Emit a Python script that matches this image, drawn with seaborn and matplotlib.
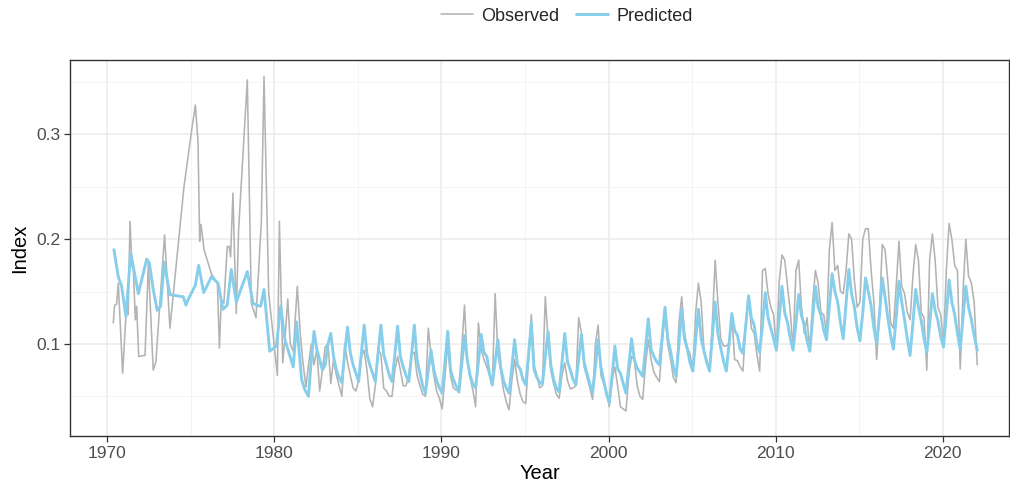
import matplotlib
matplotlib.use("Agg")
import numpy as np
import pandas as pd
import seaborn as sns
import matplotlib.pyplot as plt
from matplotlib.ticker import MultipleLocator, FixedLocator

# ---- early, irregularly sampled record (1970-1981) ----
obs_early_t = [1970.36, 1970.44, 1970.56, 1970.66, 1970.92, 1971.16, 1971.25, 1971.36,
               1971.48, 1971.56, 1971.68, 1971.76, 1971.88, 1972.26, 1972.46, 1972.75,
               1972.91, 1973.43, 1973.75, 1974.59, 1975.05, 1975.27, 1975.43, 1975.53,
               1975.59, 1975.65, 1975.79, 1976.23, 1976.59, 1976.71, 1976.82, 1976.98,
               1977.18, 1977.30, 1977.38, 1977.52, 1977.62, 1977.72, 1977.86, 1978.38,
               1978.62, 1978.90, 1979.22, 1979.38, 1979.66, 1980.18, 1980.30, 1980.50,
               1980.66, 1980.80, 1980.95, 1981.13, 1981.37, 1981.55, 1981.69, 1981.89]
obs_early_v = [0.120, 0.137, 0.138, 0.158, 0.072, 0.139, 0.128, 0.217,
               0.174, 0.171, 0.123, 0.136, 0.088, 0.089, 0.177, 0.075,
               0.083, 0.204, 0.115, 0.250, 0.304, 0.328, 0.293, 0.198,
               0.214, 0.209, 0.190, 0.167, 0.158, 0.096, 0.142, 0.139,
               0.193, 0.193, 0.183, 0.244, 0.183, 0.129, 0.209, 0.352,
               0.139, 0.125, 0.217, 0.355, 0.148, 0.070, 0.217, 0.082,
               0.110, 0.143, 0.100, 0.093, 0.155, 0.110, 0.085, 0.059]

pred_early_t = [1970.40, 1970.66, 1970.86, 1971.12, 1971.40, 1971.86, 1972.36, 1972.52,
                1972.75, 1972.99, 1973.19, 1973.41, 1973.75, 1974.55, 1974.71, 1974.83,
                1975.27, 1975.47, 1975.77, 1976.23, 1976.63, 1976.92, 1977.18, 1977.42,
                1977.72, 1978.38, 1978.72, 1978.92, 1979.18, 1979.38, 1979.72, 1980.12,
                1980.38, 1980.63, 1981.13, 1981.33, 1981.63, 1981.83]
pred_early_v = [0.190, 0.164, 0.155, 0.126, 0.187, 0.148, 0.181, 0.177,
                0.152, 0.132, 0.136, 0.178, 0.147, 0.145, 0.137, 0.142,
                0.156, 0.175, 0.149, 0.164, 0.158, 0.133, 0.137, 0.171,
                0.140, 0.169, 0.139, 0.137, 0.136, 0.152, 0.093, 0.098,
                0.136, 0.104, 0.078, 0.121, 0.066, 0.056]

# ---- regular record from 1982: six readings per year ----
cycle_years = list(range(1982, 2022))
cycle_offsets = [0.04, 0.21, 0.375, 0.54, 0.71, 0.875]

obs_cycle = [
    [0.080, 0.100, 0.080, 0.095, 0.055, 0.075],  # 1982
    [0.097, 0.100, 0.062, 0.085, 0.070, 0.060],  # 1983
    [0.050, 0.100, 0.083, 0.070, 0.058, 0.055],  # 1984
    [0.065, 0.088, 0.094, 0.075, 0.048, 0.040],  # 1985
    [0.060, 0.095, 0.090, 0.058, 0.055, 0.050],  # 1986
    [0.050, 0.075, 0.088, 0.075, 0.060, 0.060],  # 1987
    [0.070, 0.090, 0.092, 0.070, 0.060, 0.052],  # 1988
    [0.050, 0.115, 0.090, 0.070, 0.055, 0.048],  # 1989
    [0.038, 0.070, 0.100, 0.070, 0.058, 0.056],  # 1990
    [0.058, 0.095, 0.137, 0.085, 0.068, 0.056],  # 1991
    [0.040, 0.120, 0.095, 0.085, 0.078, 0.070],  # 1992
    [0.060, 0.148, 0.090, 0.075, 0.056, 0.045],  # 1993
    [0.037, 0.065, 0.085, 0.065, 0.052, 0.045],  # 1994
    [0.043, 0.085, 0.128, 0.080, 0.070, 0.058],  # 1995
    [0.060, 0.145, 0.105, 0.075, 0.062, 0.052],  # 1996
    [0.048, 0.070, 0.082, 0.065, 0.057, 0.058],  # 1997
    [0.060, 0.125, 0.110, 0.078, 0.068, 0.058],  # 1998
    [0.047, 0.100, 0.118, 0.070, 0.062, 0.055],  # 1999
    [0.040, 0.065, 0.078, 0.060, 0.040, 0.038],  # 2000
    [0.036, 0.070, 0.088, 0.085, 0.060, 0.050],  # 2001
    [0.047, 0.080, 0.104, 0.085, 0.073, 0.068],  # 2002
    [0.064, 0.100, 0.130, 0.100, 0.085, 0.068],  # 2003
    [0.063, 0.120, 0.145, 0.110, 0.097, 0.090],  # 2004
    [0.074, 0.130, 0.158, 0.140, 0.093, 0.085],  # 2005
    [0.075, 0.120, 0.180, 0.140, 0.105, 0.098],  # 2006
    [0.098, 0.100, 0.128, 0.085, 0.084, 0.078],  # 2007
    [0.074, 0.120, 0.145, 0.115, 0.110, 0.090],  # 2008
    [0.074, 0.170, 0.172, 0.148, 0.135, 0.128],  # 2009
    [0.094, 0.160, 0.185, 0.180, 0.155, 0.130],  # 2010
    [0.094, 0.170, 0.180, 0.135, 0.110, 0.125],  # 2011
    [0.093, 0.140, 0.170, 0.158, 0.130, 0.128],  # 2012
    [0.110, 0.190, 0.216, 0.170, 0.175, 0.150],  # 2013
    [0.148, 0.170, 0.205, 0.200, 0.160, 0.135],  # 2014
    [0.140, 0.200, 0.210, 0.210, 0.170, 0.140],  # 2015
    [0.085, 0.130, 0.195, 0.190, 0.160, 0.120],  # 2016
    [0.115, 0.155, 0.198, 0.155, 0.148, 0.130],  # 2017
    [0.123, 0.165, 0.195, 0.180, 0.130, 0.125],  # 2018
    [0.075, 0.180, 0.205, 0.180, 0.135, 0.128],  # 2019
    [0.100, 0.170, 0.215, 0.200, 0.175, 0.170],  # 2020
    [0.076, 0.150, 0.200, 0.165, 0.158, 0.140],  # 2021
]

pred_cycle = [
    [0.050, 0.085, 0.112, 0.095, 0.085, 0.075],  # 1982
    [0.080, 0.100, 0.110, 0.088, 0.075, 0.068],  # 1983
    [0.063, 0.092, 0.116, 0.092, 0.080, 0.072],  # 1984
    [0.064, 0.092, 0.118, 0.090, 0.080, 0.072],  # 1985
    [0.064, 0.092, 0.118, 0.090, 0.080, 0.070],  # 1986
    [0.064, 0.090, 0.117, 0.088, 0.078, 0.070],  # 1987
    [0.064, 0.090, 0.118, 0.085, 0.072, 0.060],  # 1988
    [0.053, 0.075, 0.094, 0.075, 0.065, 0.058],  # 1989
    [0.053, 0.083, 0.112, 0.075, 0.066, 0.060],  # 1990
    [0.054, 0.080, 0.108, 0.085, 0.070, 0.062],  # 1991
    [0.058, 0.083, 0.109, 0.092, 0.088, 0.072],  # 1992
    [0.061, 0.083, 0.104, 0.078, 0.065, 0.058],  # 1993
    [0.053, 0.078, 0.104, 0.080, 0.076, 0.066],  # 1994
    [0.061, 0.090, 0.120, 0.075, 0.068, 0.063],  # 1995
    [0.062, 0.087, 0.112, 0.080, 0.066, 0.058],  # 1996
    [0.054, 0.082, 0.110, 0.083, 0.075, 0.066],  # 1997
    [0.061, 0.085, 0.109, 0.082, 0.072, 0.062],  # 1998
    [0.053, 0.078, 0.104, 0.078, 0.065, 0.052],  # 1999
    [0.044, 0.070, 0.098, 0.076, 0.072, 0.062],  # 2000
    [0.053, 0.080, 0.105, 0.085, 0.077, 0.073],  # 2001
    [0.069, 0.096, 0.124, 0.095, 0.088, 0.083],  # 2002
    [0.080, 0.108, 0.135, 0.105, 0.093, 0.078],  # 2003
    [0.069, 0.100, 0.133, 0.105, 0.095, 0.082],  # 2004
    [0.074, 0.104, 0.133, 0.105, 0.093, 0.082],  # 2005
    [0.074, 0.107, 0.140, 0.110, 0.096, 0.084],  # 2006
    [0.074, 0.100, 0.129, 0.113, 0.108, 0.095],  # 2007
    [0.091, 0.118, 0.146, 0.125, 0.118, 0.100],  # 2008
    [0.092, 0.118, 0.149, 0.125, 0.115, 0.105],  # 2009
    [0.094, 0.125, 0.155, 0.130, 0.120, 0.105],  # 2010
    [0.094, 0.120, 0.147, 0.127, 0.118, 0.103],  # 2011
    [0.093, 0.124, 0.155, 0.135, 0.127, 0.113],  # 2012
    [0.104, 0.135, 0.167, 0.150, 0.140, 0.120],  # 2013
    [0.105, 0.138, 0.171, 0.148, 0.135, 0.115],  # 2014
    [0.103, 0.130, 0.163, 0.150, 0.136, 0.115],  # 2015
    [0.100, 0.128, 0.163, 0.145, 0.125, 0.108],  # 2016
    [0.095, 0.125, 0.160, 0.140, 0.123, 0.105],  # 2017
    [0.089, 0.120, 0.152, 0.135, 0.122, 0.105],  # 2018
    [0.092, 0.118, 0.148, 0.132, 0.122, 0.107],  # 2019
    [0.097, 0.128, 0.161, 0.140, 0.128, 0.110],  # 2020
    [0.095, 0.125, 0.155, 0.135, 0.123, 0.108],  # 2021
]

# final reading at the start of 2022
tail_t = [2022.06]
obs_tail_v = [0.080]
pred_tail_v = [0.094]

x_ticks = [1970, 1980, 1990, 2000, 2010, 2020]
y_ticks = [0.1, 0.2, 0.3]
y_tick_labels = ["0.1", "0.2", "0.3"]


def assemble(early_t, early_v, cycle, tail_v):
    t = list(early_t)
    v = list(early_v)
    for yr, row in zip(cycle_years, cycle):
        for off, val in zip(cycle_offsets, row):
            t.append(yr + off)
            v.append(val)
    t += tail_t
    v += tail_v
    return t, v


ot, ov = assemble(obs_early_t, obs_early_v, obs_cycle, obs_tail_v)
pt, pv = assemble(pred_early_t, pred_early_v, pred_cycle, pred_tail_v)

df = pd.concat([
    pd.DataFrame({"Year": ot, "Index": ov, "series": "Observed"}),
    pd.DataFrame({"Year": pt, "Index": pv, "series": "Predicted"}),
], ignore_index=True)

sns.set_theme(style="whitegrid")
plt.rcParams["font.family"] = ["Liberation Sans", "DejaVu Sans"]

fig = plt.figure(figsize=(10.10, 4.86), dpi=100)
ax = fig.add_axes([70 / 1010, 1 - 436 / 486, 939 / 1010, 376 / 486])

sns.lineplot(data=df[df.series == "Observed"], x="Year", y="Index",
             color="#B3B3B3", linewidth=1.15, estimator=None, sort=False,
             label="Observed", ax=ax)
sns.lineplot(data=df[df.series == "Predicted"], x="Year", y="Index",
             color="#87CEEB", linewidth=2.1, estimator=None, sort=False,
             label="Predicted", ax=ax)

ax.set_xlim(1967.77, 2023.96)
ax.set_ylim(0.0121, 0.371)
ax.xaxis.set_major_locator(FixedLocator(x_ticks))
ax.xaxis.set_minor_locator(MultipleLocator(5))
ax.yaxis.set_major_locator(FixedLocator(y_ticks))
ax.yaxis.set_minor_locator(MultipleLocator(0.05))
ax.set_yticklabels(y_tick_labels)

ax.set_facecolor("white")
ax.grid(which="major", color="#EBEBEB", linewidth=1.1)
ax.grid(which="minor", color="#F3F3F3", linewidth=0.6)
ax.set_axisbelow(True)
for s in ax.spines.values():
    s.set_visible(True)
    s.set_color("#333333")
    s.set_linewidth(1.0)

ax.tick_params(axis="both", which="major", length=4, width=0.9, color="#333333",
               labelsize=12.5, labelcolor="#4D4D4D", pad=3, direction="out",
               bottom=True, left=True)
ax.tick_params(axis="both", which="minor", length=0)
ax.set_xlabel("Year", fontsize=14.5, color="black", labelpad=2)
ax.set_ylabel("Index", fontsize=14.5, color="black", labelpad=5)

ax.get_legend().remove()
handles, labels = ax.get_legend_handles_labels()
fig.legend(handles, labels, loc="center", bbox_to_anchor=(0.561, 0.967), ncol=2,
           frameon=False, fontsize=13, handlelength=1.8, columnspacing=0.9,
           handletextpad=0.45)

fig.savefig("out.png", dpi=100, facecolor="white")
